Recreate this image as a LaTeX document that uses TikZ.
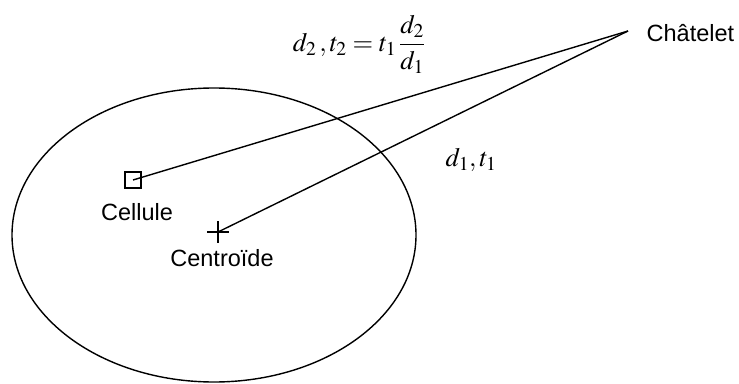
\documentclass[tikz,border=0pt]{standalone}
\usepackage{mathptmx}
\usepackage{fontspec}
\setmainfont{Liberation Sans}
\usetikzlibrary{positioning, shapes.geometric}

\begin{document}
\begin{tikzpicture}[x=1pt, y=-1pt, line width=1.4pt,
  placename/.style={inner sep=0pt, font=\fontsize{23.5}{27}\selectfont},
  mathtext/.style={inner sep=0pt, font=\fontsize{26.5}{30}\selectfont},
  cellbox/.style={rectangle, draw=black, line width=1.4pt, minimum size=16pt, inner sep=0pt},
  link/.style={line width=1.4pt}
]
\useasboundingbox (0,0) rectangle (739,383);

\node (zone) [ellipse, draw, minimum width=404pt, minimum height=294pt, inner sep=0pt] at (214,235) {};
\coordinate (chatelet) at (628,31);
\node (chateletname) [placename, anchor=west] at (646,33) {Châtelet};

\node (cellule) [cellbox] at (133,180) {};
\node (cellulename) [placename] at (137,212) {Cellule};

\coordinate (centroid) at (218,232);
\node (centroidname) [placename] at (222,258) {Centroïde};

\draw [link] (chatelet) -- (cellule.center);
\draw [link] (chatelet) -- (centroid);
\draw [link] (centroid) ++(-11,0) -- ++(22,0);
\draw [link] (centroid) ++(0,-11) -- ++(0,22);

\node (far) [mathtext] at (359,44) {$\displaystyle d_2\,, t_2 = t_1\,\frac{d_2}{d_1}$};
\node (near) [mathtext] at (471,160) {$d_1, t_1$};

\end{tikzpicture}
\end{document}
